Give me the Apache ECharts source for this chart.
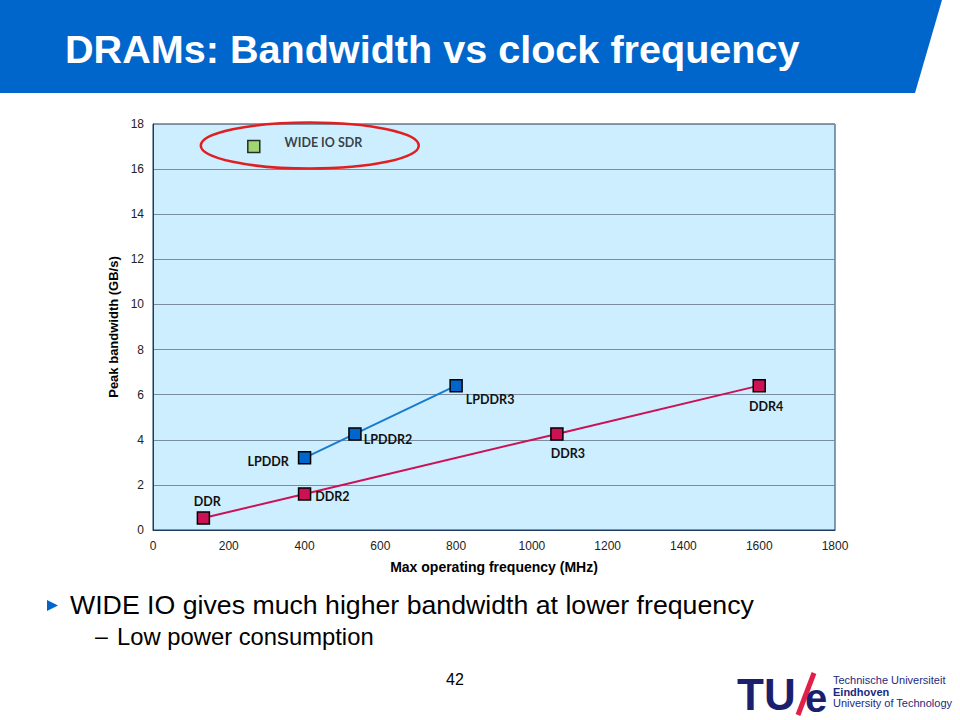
<!DOCTYPE html>
<html><head><meta charset="utf-8">
<script src="https://cdn.jsdelivr.net/npm/echarts@6/dist/echarts.min.js"></script>
<style>html,body{margin:0;padding:0;background:#fff}#c{width:960px;height:720px}</style>
</head><body><div id="c"></div>
<script>
// ---- data ----
const ddrNames = ['DDR', 'DDR2', 'DDR3', 'DDR4'];
const ddrFreq  = [133, 400, 1066, 1600];
const ddrBw    = [0.53, 1.6, 4.26, 6.4];
const lpNames  = ['LPDDR', 'LPDDR2', 'LPDDR3'];
const lpFreq   = [400, 533, 800];
const lpBw     = [3.2, 4.26, 6.4];
const wideNames = ['WIDE IO SDR'];
const wideFreq  = [266];
const wideBw    = [17];
const xAxisRange = [0, 1800, 200];
const yAxisRange = [0, 18, 2];
const titleText = 'DRAMs: Bandwidth vs clock frequency';
const xAxisName = 'Max operating frequency (MHz)';
const yAxisName = 'Peak bandwidth (GB/s)';
const bullet1 = 'WIDE IO gives much higher bandwidth at lower frequency';
const bullet2 = 'Low power consumption';
const pageNo = '42';

// ---- label placement (style) ----
const labelPlace = {
  'DDR':    {position: 'top', distance: 3, offset: [4, 0]},
  'DDR2':   {position: 'right', distance: 4, offset: [0, 3]},
  'DDR3':   {position: 'bottom', distance: 6, offset: [11, 0]},
  'DDR4':   {position: 'bottom', distance: 8, offset: [7, 0]},
  'LPDDR':  {position: 'left', distance: 9, offset: [0, 4]},
  'LPDDR2': {position: 'right', distance: 2, offset: [0, 6]},
  'LPDDR3': {position: 'right', distance: 3, offset: [0, 14]},
  'WIDE IO SDR': {position: 'right', distance: 24, offset: [0, -4]}
};
const labelFont = {color: '#111', fontSize: 12.5, fontWeight: 'bold', fontFamily: 'Lato, "Open Sans", sans-serif'};

function build(names, xs, ys) {
  return names.map((n, i) => ({
    name: n,
    value: [xs[i], ys[i]],
    label: Object.assign({show: true, formatter: n}, labelPlace[n], labelFont)
  }));
}

const chart = echarts.init(document.getElementById('c'), null, {renderer: 'svg'});
const sansFont = '"Liberation Sans", Arial, sans-serif';

const option = {
  animation: false,
  backgroundColor: '#ffffff',
  grid: {
    left: 153, top: 124, right: 125, bottom: 190,
    show: true, backgroundColor: '#CCEEFF', borderColor: '#1F3A5F', borderWidth: 1
  },
  xAxis: {
    type: 'value', min: xAxisRange[0], max: xAxisRange[1], interval: xAxisRange[2],
    name: xAxisName, nameLocation: 'middle', nameGap: 30,
    nameTextStyle: {fontFamily: sansFont, fontSize: 14, fontWeight: 'bold', color: '#000'},
    axisLine: {show: true, lineStyle: {color: '#1F3A5F', width: 1}},
    axisTick: {show: false},
    axisLabel: {fontFamily: sansFont, fontSize: 12, color: '#222', margin: 10, formatter: v => String(v)},
    splitLine: {show: false}
  },
  yAxis: {
    type: 'value', min: yAxisRange[0], max: yAxisRange[1], interval: yAxisRange[2],
    name: yAxisName, nameLocation: 'middle', nameGap: 31,
    nameTextStyle: {fontFamily: sansFont, fontSize: 13, fontWeight: 'bold', color: '#000'},
    axisLine: {show: true, lineStyle: {color: '#1F3A5F', width: 1}},
    axisTick: {show: false},
    axisLabel: {fontFamily: sansFont, fontSize: 12, color: '#222', margin: 9, formatter: v => String(v)},
    splitLine: {show: true, lineStyle: {color: '#7A8C9E', width: 1}}
  },
  series: [
    {
      name: 'DDR', type: 'line', data: build(ddrNames, ddrFreq, ddrBw),
      symbol: 'rect', symbolSize: 12,
      lineStyle: {color: '#CC1155', width: 2},
      itemStyle: {color: '#CC1155', borderColor: '#000', borderWidth: 1.5},
      z: 3
    },
    {
      name: 'LPDDR', type: 'line', data: build(lpNames, lpFreq, lpBw),
      symbol: 'rect', symbolSize: 12,
      lineStyle: {color: '#1A7AD0', width: 2},
      itemStyle: {color: '#0066CC', borderColor: '#000', borderWidth: 1.5},
      z: 3
    },
    {
      name: 'WIDE IO', type: 'scatter', data: build(wideNames, wideFreq, wideBw),
      symbol: 'rect', symbolSize: 12,
      itemStyle: {color: '#92D050', borderColor: '#000', borderWidth: 1.5},
      z: 3
    }
  ],
  graphic: [
    {id: 'banner', type: 'polygon', shape: {points: [[0, 0], [942, 0], [915, 93], [0, 93]]}, style: {fill: '#0066CC'}, z: -1},
    {id: 'title', type: 'text', x: 65, y: 49, style: {text: titleText, fill: '#fff', font: 'bold 39.6px ' + sansFont, verticalAlign: 'middle'}},
    {id: 'tri', type: 'polygon', shape: {points: [[47, 600], [58, 605.5], [47, 611]]}, style: {fill: '#0066CC'}},
    {id: 'b1', type: 'text', x: 70, y: 605, style: {text: bullet1, fill: '#000', font: '26.7px ' + sansFont, verticalAlign: 'middle'}},
    {id: 'dash', type: 'text', x: 95, y: 636, style: {text: '\u2013', fill: '#000', font: '23px ' + sansFont, verticalAlign: 'middle'}},
    {id: 'b2', type: 'text', x: 117, y: 636, style: {text: bullet2, fill: '#000', font: '23.8px ' + sansFont, verticalAlign: 'middle'}},
    {id: 'pg', type: 'text', x: 455, y: 679, style: {text: pageNo, fill: '#000', font: '16px ' + sansFont, align: 'center', verticalAlign: 'middle'}},
    {id: 'tu', type: 'text', x: 737, y: 694, style: {text: 'TU', fill: '#1C1F6E', font: 'bold 44px ' + sansFont, verticalAlign: 'middle'}},
    {id: 'slash', type: 'line', shape: {x1: 814, y1: 673, x2: 798, y2: 715}, style: {stroke: '#E0204A', lineWidth: 5}},
    {id: 'e', type: 'text', x: 805, y: 698, style: {text: 'e', fill: '#1C1F6E', font: 'bold 40px ' + sansFont, verticalAlign: 'middle'}},
    {id: 'l1', type: 'text', x: 833, y: 680, style: {text: 'Technische Universiteit', fill: '#1C2A7E', font: '11px ' + sansFont, verticalAlign: 'middle'}},
    {id: 'l2', type: 'text', x: 833, y: 692, style: {text: 'Eindhoven', fill: '#1C2A7E', font: 'bold 11px ' + sansFont, verticalAlign: 'middle'}},
    {id: 'l3', type: 'text', x: 833, y: 703, style: {text: 'University of Technology', fill: '#1C2A7E', font: '11px ' + sansFont, verticalAlign: 'middle'}}
  ]
};
chart.setOption(option);

// highlight ellipse around the WIDE IO point, placed through the axes
const p = chart.convertToPixel({gridIndex: 0}, [wideFreq[0], wideBw[0]]);
chart.setOption({
  graphic: [{id: 'ring', type: 'ellipse', shape: {cx: p[0] + 56, cy: p[1] - 1, rx: 109, ry: 23},
    style: {fill: 'none', stroke: '#E02020', lineWidth: 2.5}, z: 10}]
});
</script>
</body></html>
